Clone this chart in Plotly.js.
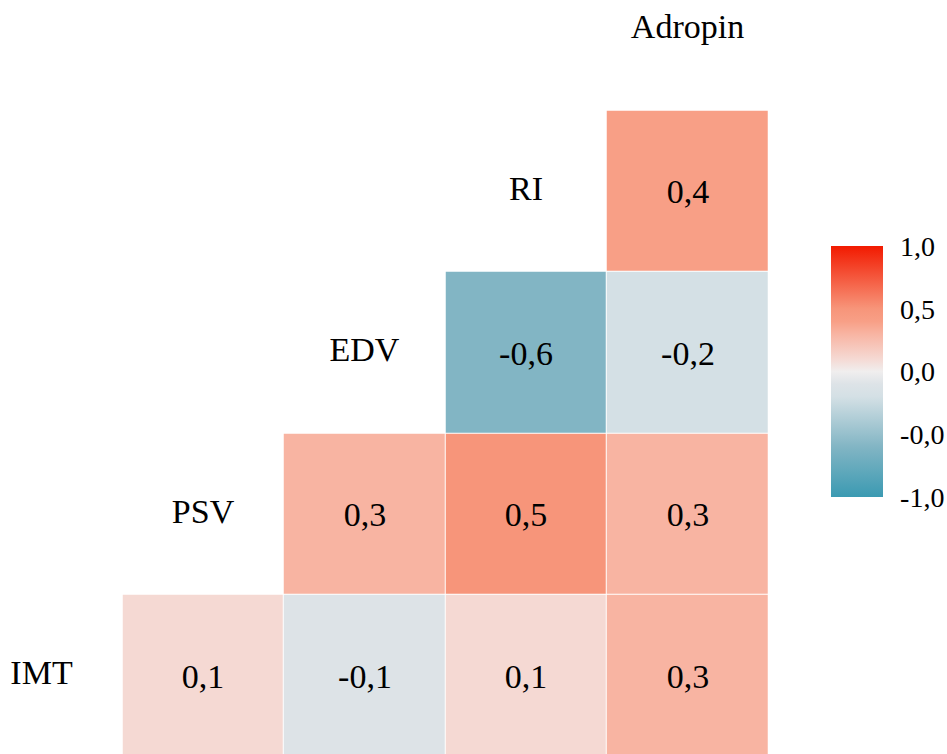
<!DOCTYPE html>
<html>
<head>
<meta charset="utf-8">
<script src="https://cdn.plot.ly/plotly-3.0.1.min.js"></script>
<style>html,body{margin:0;padding:0;background:#fff;}#chart{width:947px;height:754px;}</style>
</head>
<body>
<div id="chart"></div>
<script>
// Variables (in order along the diagonal)
const variables = ["IMT", "PSV", "EDV", "RI", "Adropin"];
// Lower-triangle correlations, one row per variable (null = no cell)
const rowIMT     = [null, 0.1, -0.1, 0.1, 0.3];
const rowPSV     = [null, null, 0.3, 0.5, 0.3];
const rowEDV     = [null, null, null, -0.6, -0.2];
const rowRI      = [null, null, null, null, 0.4];
const rowAdropin = [null, null, null, null, null];
// Colour bar tick values and labels
const cbTickVals = [-1, -0.5, 0, 0.5, 1];
const cbTickText = ["-1,0", "-0,0", "0,0", "0,5", "1,0"];

const zRows = [rowIMT, rowPSV, rowEDV, rowRI, rowAdropin];
const fmt = v => v === null ? "" : v.toFixed(1).replace(".", ",");
const textRows = zRows.map(r => r.map(fmt));
const idx = variables.map((_, i) => i);

const serif = "'Liberation Serif', 'Times New Roman', serif";

const heat = {
  type: "heatmap",
  x: idx, y: idx, z: zRows,
  text: textRows,
  texttemplate: "%{text}",
  textfont: {family: serif, size: 34, color: "#000"},
  zmin: -1, zmax: 1,
  xgap: 1, ygap: 1,
  hoverongaps: false,
  colorscale: [
    [0.0, "#3b9ab2"],
    [0.2, "#82b5c4"],
    [0.4, "#d4e0e5"],
    [0.45, "#dde3e7"],
    [0.5, "#f0eeee"],
    [0.55, "#f5d9d3"],
    [0.65, "#f8b4a2"],
    [0.7, "#f89f86"],
    [0.75, "#f7957a"],
    [1.0, "#f21a00"]
  ],
  colorbar: {
    thickness: 52, thicknessmode: "pixels",
    len: 251, lenmode: "pixels",
    x: 831/947, xanchor: "left", xref: "paper",
    y: 1 - 371.5/754, yanchor: "middle", yref: "paper",
    xpad: 0, ypad: 0,
    outlinewidth: 0,
    tickvals: cbTickVals, ticktext: cbTickText,
    ticks: "outside", ticklen: 12, tickcolor: "#ffffff", tickwidth: 1,
    tickfont: {family: serif, size: 28, color: "#000"}
  }
};

const labels = {
  type: "scatter", mode: "text",
  x: idx, y: idx, text: variables,
  textposition: "middle center",
  textfont: {family: serif, size: 34, color: "#000"},
  hoverinfo: "skip", showlegend: false
};

const cell = 161.5;
const layout = {
  width: 947, height: 754,
  margin: {l: 0, r: 0, t: 0, b: 0, pad: 0},
  paper_bgcolor: "#fff", plot_bgcolor: "#fff",
  showlegend: false,
  font: {family: serif},
  xaxis: {range: [-41.5/cell, (947-41.5)/cell], visible: false, fixedrange: true},
  yaxis: {range: [(675.5-754)/cell, 675.5/cell], visible: false, fixedrange: true}
};

Plotly.newPlot("chart", [heat, labels], layout, {displayModeBar: false, staticPlot: true});
</script>
</body>
</html>
